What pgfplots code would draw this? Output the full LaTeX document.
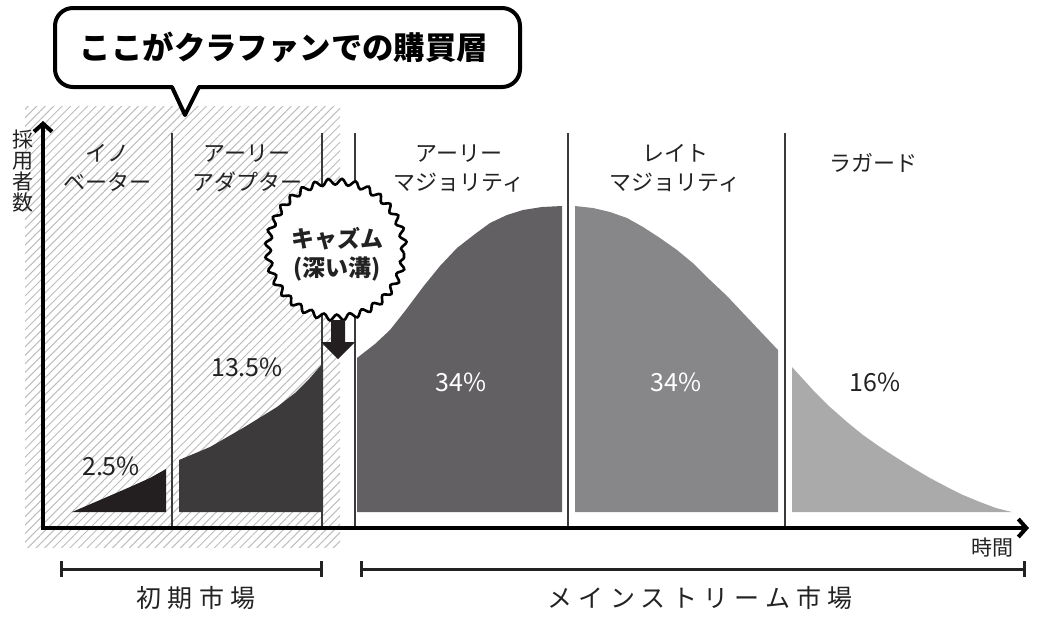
\documentclass[border=0pt]{standalone}
\usepackage{fontspec}
\setmainfont{Noto Sans CJK JP}
\newfontfamily\spacedjp[LetterSpace=25]{Noto Sans CJK JP}
\usepackage{pgfplots}
\pgfplotsset{compat=1.18}
\usetikzlibrary{patterns.meta, arrows.meta, decorations.pathmorphing}
\definecolor{cInno}{HTML}{231F20}
\definecolor{cEA}{HTML}{3D3A3B}
\definecolor{cEM}{HTML}{626063}
\definecolor{cLM}{HTML}{878688}
\definecolor{cLag}{HTML}{AAAAAA}
\definecolor{hatch}{HTML}{BDBDBD}
\definecolor{vline}{HTML}{3A3A3A}
\definecolor{txt}{HTML}{222222}
\begin{document}
\begin{tikzpicture}
\begin{axis}[width=520pt, height=309pt, scale only axis,
  xmin=0, xmax=1040, ymin=0, ymax=618, y dir=reverse,
  axis lines=none, clip=false]
\path (axis cs:0,0) rectangle (axis cs:1040,618);
% hatched early market area
\addplot[draw=none, pattern={Lines[angle=45,distance=3pt,line width=0.5pt]}, pattern color=hatch]
  coordinates {(25,106) (340,106) (340,547) (25,547)} -- cycle;
% segments of the adoption curve (pixel-space readings)
\addplot[draw=none, fill=cInno] coordinates {(72,512) (100,500) (130,487) (150,478) (166,469) (166,512)} -- cycle;
\addplot[draw=none, fill=cEA] coordinates {(179,512) (179,460) (210,447) (243,428) (277,407) (295,393) (310,378) (323,363) (323,512)} -- cycle;
\addplot[draw=none, fill=cEM] coordinates {(357,512) (357,358) (375,344) (390,330) (405,311) (423,287) (440,266) (457,248) (475,234) (490,223) (507,215) (523,210) (542,207) (562,206) (562,512)} -- cycle;
\addplot[draw=none, fill=cLM] coordinates {(575,512) (575,206) (593,208) (610,212) (627,218) (643,227) (660,238) (677,250) (694,264) (710,280) (727,296) (743,313) (760,331) (778,350) (778,512)} -- cycle;
\addplot[draw=none, fill=cLag] coordinates {(792,512) (792,367) (813,390) (830,407) (847,422) (863,435) (880,447) (897,458) (913,468) (930,478) (947,487) (963,495) (980,502) (996,508) (1012,512)} -- cycle;
% segment dividers
\addplot[vline, line width=0.6pt] coordinates {(172,133) (172,528)};
\addplot[vline, line width=0.6pt] coordinates {(322,133) (322,528)};
\addplot[vline, line width=0.6pt] coordinates {(355,133) (355,528)};
\addplot[vline, line width=0.6pt] coordinates {(568,133) (568,528)};
\addplot[vline, line width=0.6pt] coordinates {(785,133) (785,528)};
% axes
\draw[line width=2pt, miter limit=4, {Straight Barb[length=4pt,width=9pt]}-{Straight Barb[length=4pt,width=9pt]}]
  (axis cs:43,121) -- (axis cs:43,528) -- (axis cs:1029,528);
% segment labels
\begin{scope}[every node/.style={text=txt, align=center, font=\fontsize{11}{14.5}\selectfont}]
\node at (axis cs:107,168) {イノ\\ベーター};
\node at (axis cs:247,168) {アーリー\\アダプター};
\node at (axis cs:459,168) {アーリー\\マジョリティ};
\node at (axis cs:675,168) {レイト\\マジョリティ};
\node at (axis cs:873,163) {ラガード};
\end{scope}
% percentages
\begin{scope}[every node/.style={font=\fontsize{12.5}{14}\selectfont}]
\node[text=txt] at (axis cs:111,466) {2.5\%};
\node[text=txt] at (axis cs:247,367) {13.5\%};
\node[text=white] at (axis cs:461,382) {34\%};
\node[text=white] at (axis cs:676,382) {34\%};
\node[text=txt] at (axis cs:875,382) {16\%};
\end{scope}
% chasm starburst
\draw[line width=1.3pt, fill=white, decorate, decoration={snake, segment length=6.676pt, amplitude=1.5pt}]
  (axis cs:336,253) circle[radius=34pt];
\node[text=txt, align=center, font=\bfseries\fontsize{11.5}{14.5}\selectfont] at (axis cs:337,254) {キャズム\\(深い溝)};
\fill[cInno] (axis cs:331,320) -- (axis cs:345,320) -- (axis cs:345,342) -- (axis cs:355,342)
  -- (axis cs:338,359) -- (axis cs:321,342) -- (axis cs:331,342) -- cycle;
% speech bubble
\draw[line width=2pt, fill=white, line join=round]
  (axis cs:185,115) -- (axis cs:172,87) [rounded corners=9pt] -- (axis cs:55,87) -- (axis cs:55,8)
  -- (axis cs:520,8) -- (axis cs:520,87) [sharp corners] -- (axis cs:199,87) -- cycle;
\node[text=black, font=\bfseries\fontsize{15.7}{18}\selectfont] at (axis cs:284,47) {ここがクラファンでの購買層};
% axis titles
\node[text=txt, align=center, font=\fontsize{10.5}{10.6}\selectfont] at (axis cs:23,171) {採\\用\\者\\数};
\node[text=txt, font=\fontsize{10.5}{12}\selectfont] at (axis cs:992,548) {時間};
% market brackets
\draw[line width=1.5pt, txt] (axis cs:61,561) -- (axis cs:61,577);
\draw[line width=1.5pt, txt] (axis cs:61,569) -- (axis cs:321,569);
\draw[line width=1.5pt, txt] (axis cs:321,561) -- (axis cs:321,577);
\draw[line width=1.5pt, txt] (axis cs:361,561) -- (axis cs:361,577);
\draw[line width=1.5pt, txt] (axis cs:361,569) -- (axis cs:1024,569);
\draw[line width=1.5pt, txt] (axis cs:1024,561) -- (axis cs:1024,577);
\node[text=txt, font=\spacedjp\fontsize{12.5}{14}\selectfont] at (axis cs:196,598) {初期市場};
\node[text=txt, font=\spacedjp\fontsize{12.5}{14}\selectfont] at (axis cs:700,598) {メインストリーム\hspace{3pt}市場};
\end{axis}
\end{tikzpicture}
\end{document}
